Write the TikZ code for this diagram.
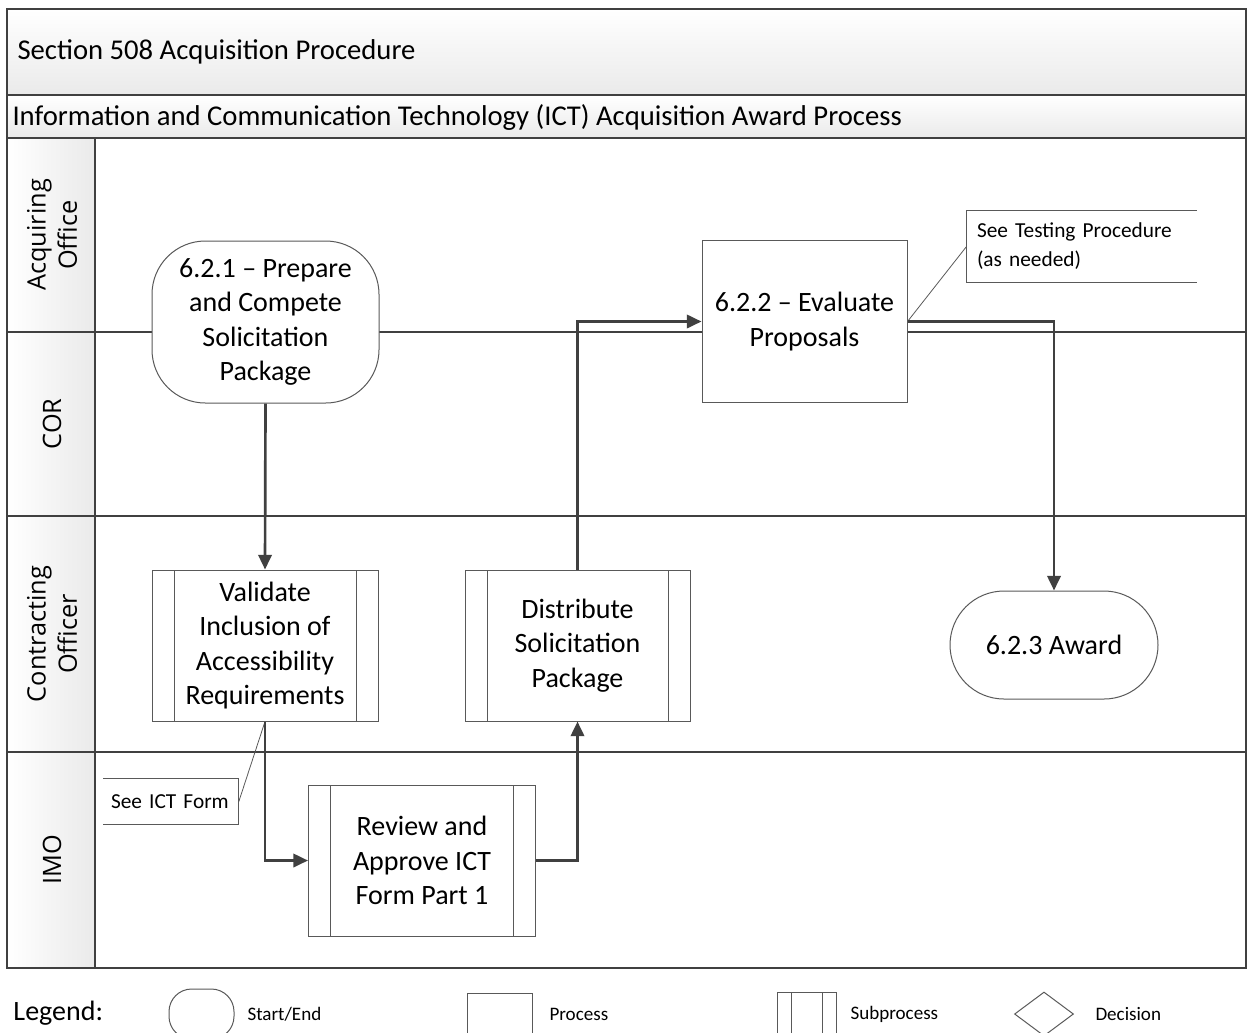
\documentclass[tikz,border=0pt]{standalone}
\usepackage{fontspec}
\setmainfont{Carlito}
\newfontfamily\lanefont{Open Sans}
\usetikzlibrary{arrows.meta,shapes.geometric}
\definecolor{laneline}{HTML}{404040}
\definecolor{shapeline}{HTML}{595959}
\definecolor{headfill}{HTML}{EAEAEA}
\tikzset{every picture/.style={line width=0.75pt}}
\tikzset{
  lane/.style={draw=laneline, line width=1.5pt},
  head/.style={inner sep=0pt, font=\fontsize{21.5}{26}\selectfont},
  lanelabel/.style={rotate=90, align=center, font=\lanefont\fontsize{19}{23.5}\selectfont},
  box/.style={draw=shapeline, line width=0.75pt, fill=white, align=center, font=\fontsize{21}{25.9}\selectfont},
  terminal/.style={box, rounded corners=#1},
  terminal/.default=40pt,
  subproc/.style={box, path picture={
    \draw[shapeline, line width=0.75pt] ([xshift=#1]path picture bounding box.north west) -- ([xshift=#1]path picture bounding box.south west)
      ([xshift=-#1]path picture bounding box.north east) -- ([xshift=-#1]path picture bounding box.south east);}},
  subproc/.default=16.5pt,
  note/.style={align=left, font=\fontsize{16}{21.75}\selectfont},
  noteline/.style={draw=shapeline, line width=0.6pt},
  flow/.style={draw=laneline, line width=2pt, -{Triangle[length=11pt,width=10pt]}},
  legtext/.style={anchor=west, inner sep=0pt, font=\fontsize{14.3}{17}\selectfont}
}
\begin{document}
\begin{tikzpicture}[x=0.75pt,y=0.75pt,yscale=-1,xscale=1]
	\useasboundingbox (0,0) rectangle (1251,1032);
	
	%Shape: Header bands
	\fill[top color=white, bottom color=headfill] (7,9) rectangle (1246,95);
	\fill[top color=white, bottom color=headfill] (7,95) rectangle (1246,138);
	\fill[left color=white, right color=headfill] (7,138) rectangle (95,968);
	%Straight Lines: pool and lanes
	\draw[lane] (7,9) rectangle (1246,968);
	\draw[lane] (7,95) -- (1246,95);
	\draw[lane] (7,138) -- (1246,138);
	\draw[lane] (95,138) -- (95,968);
	\foreach \y in {332,516,752}
		\draw[lane] (7,\y) -- (1246,\y);
	
	% Text Node
	\node[head, anchor=west] (title) at (17,52) {Section 508 Acquisition Procedure};
	% Text Node
	\node[head, anchor=west] (subtitle) at (12,117) {Information and Communication Technology (ICT) Acquisition Award Process};
	% Text Node
	\node[lanelabel] (acqlane) at (52,235) {Acquiring\\Office};
	\node[lanelabel] (corlane) at (52,424) {COR};
	\node[lanelabel] (colane) at (52,634) {Contracting\\Officer};
	\node[lanelabel] (imolane) at (52,860) {IMO};
	
	%Shape: Start/End
	\node[terminal, minimum width=170.25pt, minimum height=121.5pt] (prepare) at (265.5,322) {6.2.1 – Prepare\\and Compete\\Solicitation\\Package};
	%Shape: Process
	\node[box, minimum width=153.75pt, minimum height=121.5pt] (evaluate) at (804.5,321.5) {6.2.2 – Evaluate\\Proposals};
	%Shape: Subprocess
	\node[subproc, minimum width=169.5pt, minimum height=113.25pt] (validate) at (265,645.5) {Validate\\Inclusion of\\Accessibility\\Requirements};
	\node[subproc, minimum width=168.75pt, minimum height=113.25pt] (distribute) at (577.5,645.5) {Distribute\\Solicitation\\Package};
	\node[subproc, minimum width=170.25pt, minimum height=113.25pt] (review) at (422,860.5) {Review and\\Approve ICT\\Form Part 1};
	%Shape: Start/End
	\node[terminal=40.5pt, minimum width=156pt, minimum height=81pt] (award) at (1054,645) {6.2.3 Award};
	
	%Shape: Annotations
	\node[note, inner xsep=7.5pt, text width=156.75pt, minimum height=53.25pt] (testnote) at (1081.5,246.5) {See Testing Procedure\\(as needed)};
	\draw[noteline] (testnote.north east) -- (testnote.north west) -- (testnote.south west) -- (testnote.south east);
	\node[note, inner xsep=5.5pt, text width=90pt, minimum height=33.75pt] (ictnote) at (171,801.5) {See ICT Form};
	\draw[noteline] (ictnote.north west) -- (ictnote.north east) -- (ictnote.south east) -- (ictnote.south west);
	\draw[noteline] (evaluate.east) -- (testnote.west);
	\draw[noteline] (ictnote.east) -- (validate.south);
	
	%Straight Lines: flow
	\draw[flow] (prepare.south) -- (validate.north);
	\draw[flow] (validate.south) |- (review.west);
	\draw[flow] (review.east) -| (distribute.south);
	\draw[flow] (distribute.north) |- (evaluate.west);
	\draw[flow] (evaluate.east) -| (award.north);
	
	% Legend
	\node[anchor=west, inner sep=0pt, font=\fontsize{21}{26}\selectfont] (legend) at (13,1013) {Legend:};
	\node[terminal=17pt, minimum width=48.75pt, minimum height=37.5pt] (legstart) at (201.5,1014) {};
	\node[legtext] (legstarttext) at (247,1014) {Start/End};
	\node[box, minimum width=48.75pt, minimum height=32.25pt] (legproc) at (499.5,1014.5) {};
	\node[legtext] (legproctext) at (549,1014) {Process};
	\node[subproc=10.5pt, minimum width=44.25pt, minimum height=33pt] (legsub) at (806.5,1014) {};
	\node[legtext] (legsubtext) at (850,1014) {Subprocess};
	\node[diamond, draw=shapeline, line width=0.75pt, inner sep=0pt, minimum width=44.25pt, minimum height=33pt] (legdec) at (1044,1014) {};
	\node[legtext] (legdectext) at (1095,1014) {Decision};
	
\end{tikzpicture}
\end{document}
